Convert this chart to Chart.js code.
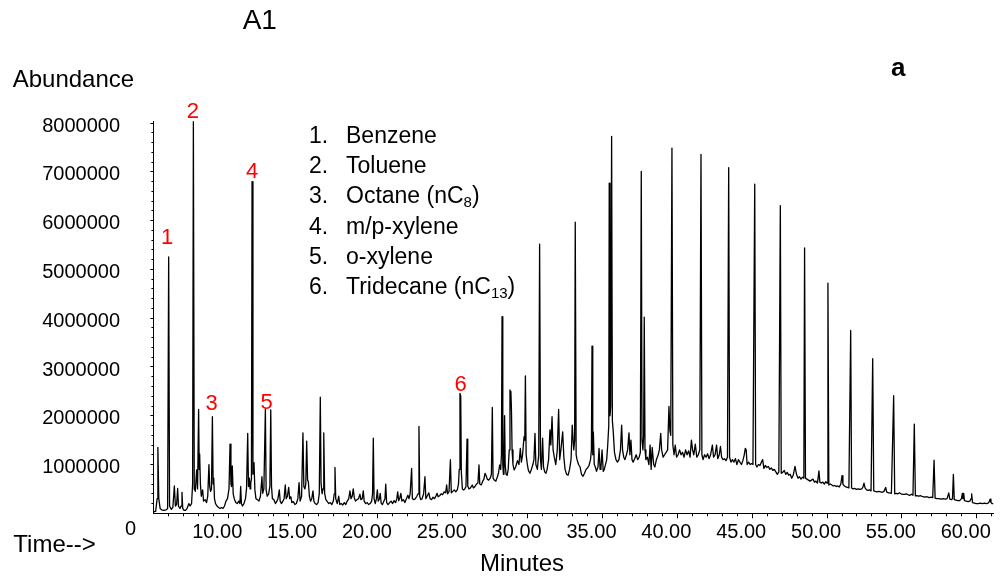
<!DOCTYPE html>
<html>
<head>
<meta charset="utf-8">
<script src="https://cdn.jsdelivr.net/npm/chart.js@4.4.1/dist/chart.umd.min.js"></script>
<style>
html,body{margin:0;padding:0;background:#fff;}
#wrap{position:relative;width:1004px;height:580px;overflow:hidden;font-family:"Liberation Sans",Arial,sans-serif;color:#000;}
#c{position:absolute;left:0;top:0;}
.t{position:absolute;line-height:1;white-space:nowrap;}
.sub{font-size:15px;position:relative;top:4px;}
</style>
</head>
<body>
<div id="wrap">
<canvas id="c" width="1004" height="580"></canvas>
<div class="t" style="left:242.7px;top:6.3px;font-size:28px;">A1</div>
<div class="t" style="left:12.7px;top:67px;font-size:24px;">Abundance</div>
<div class="t" style="left:891px;top:54px;font-size:26px;font-weight:bold;">a</div>
<div class="t" style="left:13.3px;top:532px;font-size:24px;">Time--&gt;</div>
<div class="t" style="left:522px;top:550.7px;font-size:24px;transform:translateX(-50%);">Minutes</div>
<div class="t" style="left:130.5px;top:518.1px;font-size:20px;transform:translateX(-50%);">0</div>
<div class="t" style="left:309px;top:123.8px;font-size:23px;">1.</div>
<div class="t" style="left:346px;top:123.8px;font-size:23px;">Benzene</div>
<div class="t" style="left:309px;top:154.1px;font-size:23px;">2.</div>
<div class="t" style="left:346px;top:154.1px;font-size:23px;">Toluene</div>
<div class="t" style="left:309px;top:184.4px;font-size:23px;">3.</div>
<div class="t" style="left:346px;top:184.4px;font-size:23px;">Octane (nC<span class="sub">8</span>)</div>
<div class="t" style="left:309px;top:214.7px;font-size:23px;">4.</div>
<div class="t" style="left:346px;top:214.7px;font-size:23px;">m/p-xylene</div>
<div class="t" style="left:309px;top:245px;font-size:23px;">5.</div>
<div class="t" style="left:346px;top:245px;font-size:23px;">o-xylene</div>
<div class="t" style="left:309px;top:275.3px;font-size:23px;">6.</div>
<div class="t" style="left:346px;top:275.3px;font-size:23px;">Tridecane (nC<span class="sub">13</span>)</div>
</div>
<script>
// ---- data (minutes, abundance) ----
const tic = [
[5.00,30000],[5.15,40000],[5.25,300000],[5.30,1350000],[5.36,300000],[5.45,100000],[5.55,70000],[5.70,60000],[5.85,70000],[5.95,100000],
[6.02,5260000],[6.08,150000],[6.20,80000],[6.30,120000],[6.40,560000],[6.47,150000],[6.55,180000],[6.62,510000],[6.68,140000],[6.78,100000],
[6.85,150000],[6.91,430000],[6.96,100000],[7.05,60000],[7.15,60000],[7.25,100000],[7.37,200000],[7.45,150000],[7.55,200000],[7.62,600000],
[7.67,8030000],[7.73,500000],[7.80,450000],[7.89,890000],[7.95,500000],[8.02,2130000],[8.06,900000],[8.09,1220000],[8.14,600000],[8.20,350000],
[8.29,480000],[8.35,250000],[8.45,280000],[8.55,220000],[8.63,350000],[8.71,1000000],[8.76,550000],[8.82,450000],[8.88,500000],[8.94,1980000],
[8.99,600000],[9.03,720000],[9.08,300000],[9.15,200000],[9.25,150000],[9.35,120000],[9.45,100000],[9.55,120000],[9.65,100000],[9.75,150000],
[9.85,250000],[9.95,300000],[10.05,500000],[10.12,1420000],[10.18,600000],[10.22,550000],[10.27,970000],[10.33,400000],[10.40,300000],[10.50,220000],
[10.60,200000],[10.70,250000],[10.78,200000],[10.83,550000],[10.88,200000],[10.95,150000],[11.05,200000],[11.15,300000],[11.22,500000],[11.30,1640000],
[11.35,550000],[11.41,720000],[11.46,500000],[11.50,620000],[11.55,700000],[11.59,6800000],[11.65,800000],[11.72,1040000],[11.78,480000],[11.85,300000],
[11.95,280000],[12.05,250000],[12.15,350000],[12.25,750000],[12.30,410000],[12.38,500000],[12.48,2130000],[12.53,480000],[12.60,350000],[12.70,400000],
[12.78,550000],[12.84,2120000],[12.89,550000],[12.95,300000],[13.05,280000],[13.15,200000],[13.25,250000],[13.32,300000],[13.41,480000],[13.47,250000],
[13.55,200000],[13.65,250000],[13.73,300000],[13.81,580000],[13.87,300000],[13.95,350000],[14.04,530000],[14.10,300000],[14.18,340000],[14.25,220000],
[14.35,240000],[14.45,180000],[14.55,200000],[14.65,300000],[14.73,630000],[14.80,250000],[14.90,350000],[14.99,1650000],[15.05,550000],[15.12,500000],
[15.18,600000],[15.24,1480000],[15.30,680000],[15.35,650000],[15.42,350000],[15.50,250000],[15.58,300000],[15.66,460000],[15.72,250000],[15.80,200000],
[15.90,180000],[16.00,220000],[16.08,400000],[16.15,2380000],[16.20,620000],[16.27,400000],[16.33,500000],[16.38,1650000],[16.44,410000],[16.52,280000],
[16.62,240000],[16.72,200000],[16.82,220000],[16.92,180000],[17.02,250000],[17.08,400000],[17.13,940000],[17.18,300000],[17.28,200000],[17.38,350000],
[17.45,180000],[17.55,200000],[17.65,170000],[17.75,220000],[17.85,180000],[17.95,250000],[18.05,300000],[18.13,460000],[18.20,300000],[18.28,350000],
[18.35,500000],[18.42,320000],[18.50,250000],[18.60,280000],[18.70,300000],[18.80,390000],[18.86,280000],[18.95,300000],[19.02,460000],[19.08,250000],
[19.18,200000],[19.28,220000],[19.38,180000],[19.48,200000],[19.58,250000],[19.64,400000],[19.69,1540000],[19.74,300000],[19.82,200000],[19.90,300000],
[19.96,480000],[20.02,250000],[20.10,300000],[20.15,410000],[20.22,200000],[20.30,180000],[20.40,250000],[20.47,300000],[20.52,600000],[20.58,220000],
[20.68,180000],[20.78,220000],[20.88,250000],[20.98,200000],[21.08,260000],[21.18,220000],[21.26,300000],[21.32,440000],[21.38,260000],[21.45,300000],
[21.53,410000],[21.60,250000],[21.70,280000],[21.80,220000],[21.90,300000],[22.00,370000],[22.08,300000],[22.15,400000],[22.25,920000],[22.30,300000],
[22.40,280000],[22.50,300000],[22.60,350000],[22.68,400000],[22.74,1780000],[22.79,350000],[22.86,280000],[22.95,300000],[23.05,400000],[23.14,750000],
[23.20,300000],[23.28,350000],[23.40,420000],[23.48,300000],[23.58,280000],[23.68,330000],[23.78,300000],[23.88,360000],[23.95,410000],[24.02,340000],
[24.12,360000],[24.22,400000],[24.32,380000],[24.42,440000],[24.52,420000],[24.59,580000],[24.65,400000],[24.75,450000],[24.84,1100000],[24.90,420000],
[25.00,450000],[25.10,480000],[25.20,440000],[25.30,480000],[25.38,600000],[25.43,900000],[25.48,2460000],[25.53,2400000],[25.57,850000],[25.64,500000],
[25.72,480000],[25.80,500000],[25.88,550000],[25.95,1520000],[26.00,560000],[26.08,500000],[26.18,520000],[26.30,580000],[26.38,520000],[26.48,550000],
[26.58,600000],[26.68,620000],[26.75,990000],[26.80,600000],[26.90,580000],[27.00,660000],[27.08,700000],[27.15,820000],[27.22,780000],[27.30,700000],
[27.40,680000],[27.50,720000],[27.58,800000],[27.64,2170000],[27.69,720000],[27.78,680000],[27.88,660000],[27.98,750000],[28.05,820000],[28.13,990000],
[28.20,900000],[28.25,1200000],[28.29,4030000],[28.34,1000000],[28.38,800000],[28.42,1200000],[28.46,2000000],[28.50,1000000],[28.56,800000],[28.63,780000],
[28.70,900000],[28.77,1300000],[28.82,2530000],[28.85,2300000],[28.88,2500000],[28.92,2100000],[28.96,1300000],[29.02,1000000],[29.10,890000],[29.20,950000],
[29.32,1080000],[29.42,1000000],[29.51,1330000],[29.58,1050000],[29.66,1200000],[29.76,1570000],[29.81,1500000],[29.85,2820000],[29.90,1200000],[29.98,1000000],
[30.05,880000],[30.15,820000],[30.25,900000],[30.35,1000000],[30.42,1100000],[30.49,1640000],[30.55,1000000],[30.65,900000],[30.74,1200000],[30.80,5520000],
[30.86,1100000],[30.92,900000],[31.00,1540000],[31.06,950000],[31.14,850000],[31.22,820000],[31.30,900000],[31.40,1100000],[31.49,1710000],[31.55,1400000],
[31.63,1980000],[31.70,1300000],[31.78,1150000],[31.88,1000000],[31.98,1300000],[32.07,2130000],[32.14,1100000],[32.22,1300000],[32.34,1670000],[32.42,1150000],
[32.50,900000],[32.60,800000],[32.70,780000],[32.80,900000],[32.90,1100000],[32.98,1810000],[33.08,1300000],[33.14,1500000],[33.18,5970000],[33.24,1200000],
[33.30,1100000],[33.40,1000000],[33.50,950000],[33.60,800000],[33.70,760000],[33.80,820000],[33.90,900000],[34.00,930000],[34.10,980000],[34.20,1100000],
[34.26,1300000],[34.30,3430000],[34.35,1200000],[34.39,1670000],[34.45,1000000],[34.52,950000],[34.60,860000],[34.70,950000],[34.77,1330000],[34.84,900000],
[34.90,950000],[34.97,1300000],[35.05,860000],[35.12,900000],[35.20,1000000],[35.28,1100000],[35.35,1400000],[35.42,1800000],[35.45,6770000],[35.50,2000000],
[35.55,2200000],[35.61,7730000],[35.66,1900000],[35.72,1670000],[35.80,1250000],[35.90,1100000],[36.00,1050000],[36.10,1100000],[36.20,1300000],[36.28,1810000],
[36.34,1300000],[36.42,1150000],[36.50,1100000],[36.60,1200000],[36.68,1300000],[36.77,1650000],[36.83,1200000],[36.90,1500000],[36.97,1100000],[37.05,1050000],
[37.15,1120000],[37.25,1200000],[37.35,1100000],[37.45,1150000],[37.53,1250000],[37.59,7010000],[37.64,1500000],[37.70,1300000],[37.75,1600000],[37.79,4020000],
[37.84,1300000],[37.90,1100000],[38.00,1150000],[38.10,1000000],[38.18,1400000],[38.25,900000],[38.32,1350000],[38.42,1000000],[38.50,950000],[38.60,1100000],
[38.72,1200000],[38.80,1300000],[38.89,1640000],[38.95,1300000],[39.05,1150000],[39.15,1200000],[39.25,1250000],[39.35,1300000],[39.44,2190000],[39.50,1700000],
[39.56,1600000],[39.64,7490000],[39.70,1400000],[39.78,1200000],[39.86,1400000],[39.95,1150000],[40.05,1200000],[40.15,1300000],[40.25,1200000],[40.35,1250000],
[40.45,1150000],[40.55,1300000],[40.65,1200000],[40.75,1280000],[40.85,1150000],[40.94,1500000],[41.02,1300000],[41.10,1200000],[41.20,1420000],[41.30,1150000],
[41.40,1200000],[41.50,1300000],[41.58,7360000],[41.64,1200000],[41.72,1100000],[41.82,1200000],[41.92,1150000],[42.02,1220000],[42.12,1120000],[42.22,1200000],
[42.34,1400000],[42.42,1150000],[42.52,1200000],[42.62,1400000],[42.70,1120000],[42.80,1200000],[42.88,1370000],[42.96,1150000],[43.05,1100000],[43.15,1120000],
[43.25,1080000],[43.35,1150000],[43.43,7090000],[43.49,1150000],[43.58,1050000],[43.68,1100000],[43.78,1050000],[43.88,1120000],[43.98,1000000],[44.08,1100000],
[44.18,1050000],[44.28,1000000],[44.38,1080000],[44.47,1200000],[44.54,1330000],[44.60,1300000],[44.66,1000000],[44.76,1050000],[44.86,1000000],[44.96,1020000],
[45.05,1000000],[45.17,6750000],[45.23,1000000],[45.32,950000],[45.42,1000000],[45.52,980000],[45.62,1050000],[45.70,1100000],[45.78,920000],[45.88,980000],
[45.98,940000],[46.08,960000],[46.18,900000],[46.28,930000],[46.38,880000],[46.48,900000],[46.58,850000],[46.68,800000],[46.78,850000],[46.88,6310000],
[46.94,820000],[47.04,840000],[47.14,880000],[47.24,800000],[47.34,840000],[47.44,780000],[47.54,800000],[47.64,720000],[47.74,780000],[47.86,960000],
[47.96,800000],[48.06,720000],[48.16,750000],[48.26,700000],[48.36,740000],[48.45,720000],[48.50,5440000],[48.56,720000],[48.66,700000],[48.76,680000],
[48.86,660000],[48.96,680000],[49.06,700000],[49.16,640000],[49.26,660000],[49.36,620000],[49.46,870000],[49.52,640000],[49.62,620000],[49.72,640000],
[49.82,600000],[49.92,650000],[50.00,620000],[50.06,4720000],[50.12,580000],[50.22,600000],[50.32,580000],[50.42,560000],[50.52,570000],[50.62,550000],
[50.72,560000],[50.82,540000],[50.92,600000],[51.00,770000],[51.06,600000],[51.16,560000],[51.26,540000],[51.36,530000],[51.46,520000],[51.58,3750000],
[51.64,520000],[51.74,500000],[51.86,510000],[51.96,490000],[52.08,500000],[52.20,490000],[52.32,500000],[52.40,540000],[52.47,620000],[52.54,520000],
[52.64,480000],[52.74,470000],[52.84,480000],[52.94,460000],[53.05,3170000],[53.12,460000],[53.22,450000],[53.34,440000],[53.46,450000],[53.58,440000],
[53.70,430000],[53.80,450000],[53.92,530000],[53.98,440000],[54.08,420000],[54.20,420000],[54.30,410000],[54.45,2410000],[54.52,400000],[54.62,410000],
[54.74,400000],[54.84,420000],[54.94,400000],[55.06,390000],[55.18,390000],[55.30,400000],[55.42,380000],[55.54,370000],[55.64,390000],[55.74,370000],
[55.83,1830000],[55.90,360000],[56.00,360000],[56.12,350000],[56.26,360000],[56.40,340000],[56.54,330000],[56.68,340000],[56.82,320000],[56.96,330000],
[57.06,320000],[57.15,1090000],[57.22,310000],[57.34,300000],[57.48,300000],[57.62,290000],[57.76,300000],[57.90,290000],[58.02,300000],[58.13,420000],
[58.20,290000],[58.30,280000],[58.38,300000],[58.44,800000],[58.50,280000],[58.62,270000],[58.74,260000],[58.86,260000],[58.98,300000],[59.04,410000],
[59.08,300000],[59.13,410000],[59.18,260000],[59.30,250000],[59.42,240000],[59.54,250000],[59.62,300000],[59.66,400000],[59.72,220000],[59.84,210000],
[59.96,200000],[60.10,200000],[60.24,210000],[60.38,200000],[60.52,210000],[60.64,200000],[60.76,210000],[60.84,240000],[60.89,290000],[60.95,220000],
[61.02,200000],[61.10,200000]
];

const xTickValues = [10, 15, 20, 25, 30, 35, 40, 45, 50, 55, 60];
const xTickLabels = ['10.00','15.00','20.00','25.00','30.00','35.00','40.00','45.00','50.00','55.00','60.00'];
const xMinorTickValues = [6,7,8,9,10,11,12,13,14,15,16,17,18,19,20,21,22,23,24,25,26,27,28,29,30,31,32,33,34,35,36,37,38,39,40,41,42,43,44,45,46,47,48,49,50,51,52,53,54,55,56,57,58,59,60,61];
const yTickValues = [1000000, 2000000, 3000000, 4000000, 5000000, 6000000, 7000000, 8000000];
const yTickLabels = ['1000000','2000000','3000000','4000000','5000000','6000000','7000000','8000000'];
const yMinorTickValues = [200000,400000,600000,800000,1000000,1200000,1400000,1600000,1800000,2000000,2200000,2400000,2600000,2800000,3000000,3200000,3400000,3600000,3800000,4000000,4200000,4400000,4600000,4800000,5000000,5200000,5400000,5600000,5800000,6000000,6200000,6400000,6600000,6800000,7000000,7200000,7400000,7600000,7800000,8000000];

const peakLabelText = ['1','2','3','4','5','6'];
const peakLabelTime = [5.91, 7.63, 8.89, 11.59, 12.57, 25.53];
const peakLabelAbundance = [5640000, 8230000, 2240000, 7000000, 2260000, 2640000];

const FONT = '"Liberation Sans", Arial, sans-serif';
Chart.defaults.font.family = FONT;
Chart.defaults.color = '#000';

const peakLabelPlugin = {
  id: 'peakLabels',
  afterDatasetsDraw(chart) {
    const ctx = chart.ctx, xs = chart.scales.x, ys = chart.scales.y;
    ctx.save();
    ctx.fillStyle = '#ff0000';
    ctx.font = '22px ' + FONT;
    ctx.textAlign = 'center';
    ctx.textBaseline = 'middle';
    peakLabelText.forEach((txt, i) => {
      ctx.fillText(txt, xs.getPixelForValue(peakLabelTime[i]), ys.getPixelForValue(peakLabelAbundance[i]));
    });
    ctx.restore();
  }
};

new Chart(document.getElementById('c'), {
  type: 'line',
  data: {
    datasets: [{
      data: tic,
      borderColor: '#000',
      borderWidth: 1.3,
      pointRadius: 0,
      tension: 0,
      fill: false,
      borderJoinStyle: 'round',
      clip: false,
      xAxisID: 'x',
      yAxisID: 'y'
    }]
  },
  options: {
    responsive: false,
    animation: false,
    events: [],
    layout: { padding: { left: 0, top: 121.7, right: 10.8, bottom: 0 } },
    plugins: { legend: { display: false }, tooltip: { enabled: false } },
    scales: {
      x: {
        type: 'linear', position: 'bottom', weight: 1, min: 5, max: 61.1,
        afterBuildTicks: s => { s.ticks = xTickValues.map(v => ({ value: v })); },
        afterFit: s => { s.height = 66.7; },
        grid: { drawOnChartArea: false, drawTicks: true, tickLength: 5, color: '#000', tickColor: '#000' },
        border: { display: true, color: '#000', width: 1 },
        ticks: {
          callback: v => xTickLabels[xTickValues.indexOf(v)],
          font: { size: 20, family: FONT }, color: '#000', padding: 2, labelOffset: -11,
          maxRotation: 0, minRotation: 0, autoSkip: false
        }
      },
      xMinor: {
        type: 'linear', position: 'bottom', weight: 0, min: 5, max: 61.1,
        afterBuildTicks: s => { s.ticks = xMinorTickValues.map(v => ({ value: v })); },
        afterFit: s => { s.height = 0; },
        grid: { drawOnChartArea: false, drawTicks: true, tickLength: 3, color: '#000', tickColor: '#000' },
        border: { display: false },
        ticks: { display: false, autoSkip: false }
      },
      y: {
        type: 'linear', position: 'left', weight: 1, min: 0, max: 8030000,
        afterBuildTicks: s => { s.ticks = yTickValues.map(v => ({ value: v })); },
        afterFit: s => { s.width = 153.4; },
        grid: { drawOnChartArea: false, drawTicks: true, tickLength: 3, color: '#000', tickColor: '#000' },
        border: { display: true, color: '#000', width: 1 },
        ticks: {
          callback: v => yTickLabels[yTickValues.indexOf(v)],
          font: { size: 20, family: FONT }, color: '#000', padding: 30.4, labelOffset: 3, autoSkip: false
        }
      },
      yMinor: {
        type: 'linear', position: 'left', weight: 0, min: 0, max: 8030000,
        afterBuildTicks: s => { s.ticks = yMinorTickValues.map(v => ({ value: v })); },
        afterFit: s => { s.width = 0; },
        grid: { drawOnChartArea: false, drawTicks: true, tickLength: 2, color: '#000', tickColor: '#000' },
        border: { display: false },
        ticks: { display: false, autoSkip: false }
      }
    }
  },
  plugins: [peakLabelPlugin]
});
</script>
</body>
</html>
